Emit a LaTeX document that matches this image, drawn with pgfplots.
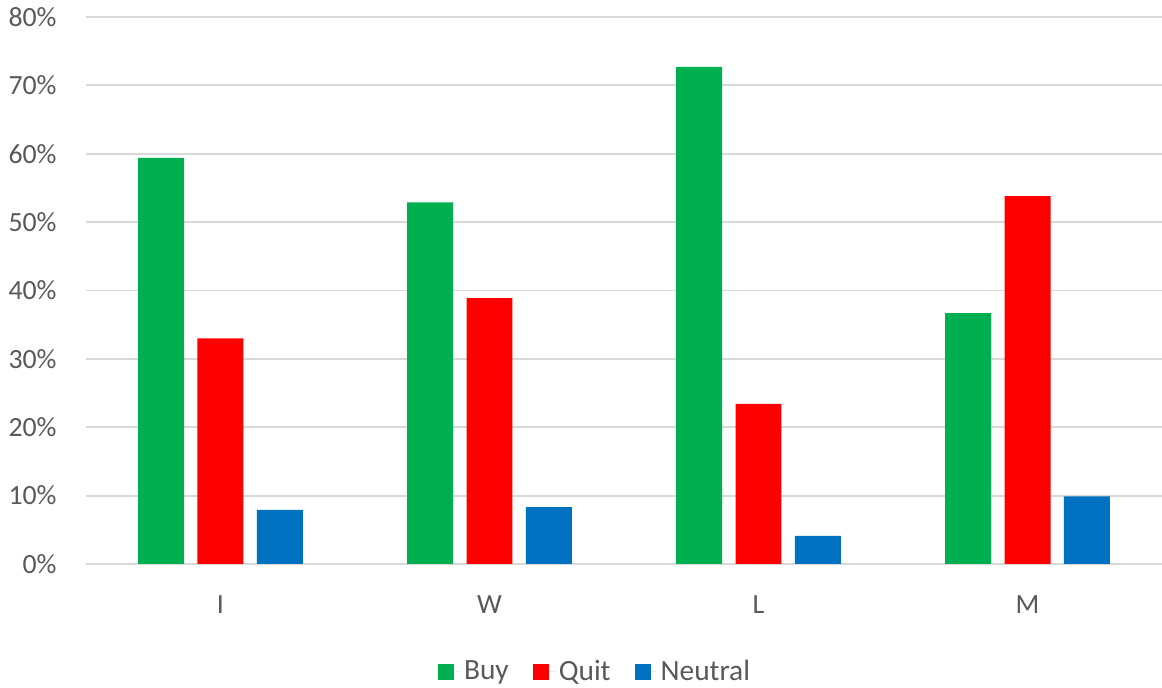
\documentclass[border=0pt]{standalone}
\usepackage{pgfplots}
\pgfplotsset{compat=1.18}
\usepackage{fontspec}
\setmainfont{Carlito}
\definecolor{cbuy}{HTML}{00B050}
\definecolor{cquit}{HTML}{FF0000}
\definecolor{cneu}{HTML}{0070C0}
\definecolor{cgrid}{HTML}{D9D9D9}
\definecolor{ctext}{HTML}{595959}
\begin{document}
\begin{tikzpicture}
\begin{axis}[
  scale only axis,
  width=538pt, height=273.5pt,
  xmin=-0.5, xmax=3.5,
  ymin=0, ymax=80,
  xtick={0,1,2,3},
  xticklabels={I,W,L,M},
  ytick={0,10,...,80},
  yticklabel={\pgfmathprintnumber{\tick}\%},
  /pgf/number format/assume math mode=true,
  major tick length=0pt,
  axis line style={draw=none},
  ymajorgrids,
  grid style={cgrid, line width=0.9pt},
  font=\fontsize{13.9}{16}\selectfont,
  tick label style={ctext},
  yticklabel style={inner sep=0pt, anchor=east, xshift=-14.5pt},
  xticklabel style={inner sep=0pt, anchor=north, yshift=-15.5pt},
  ybar, bar width=0.171,
  legend style={draw=none, fill=none, at={(0.474,-0.197)}, anchor=center,
    legend columns=3, font=\fontsize{14.7}{17}\selectfont\color{ctext},
    /tikz/every even column/.append style={column sep=10pt},
    inner sep=0pt},
  legend image code/.code={\fill[#1] (0pt,-4pt) rectangle (8pt,4pt); \path (0pt,0pt) -- (11pt,0pt);},
]
\addplot[fill=cbuy, draw=none, bar shift=-0.221] coordinates {(0,59.4) (1,52.9) (2,72.7) (3,36.7)};
\addplot[fill=cquit, draw=none, bar shift=0] coordinates {(0,33.0) (1,38.9) (2,23.4) (3,53.8)};
\addplot[fill=cneu, draw=none, bar shift=0.221] coordinates {(0,7.9) (1,8.3) (2,4.1) (3,9.9)};
\legend{Buy,Quit,Neutral}
\end{axis}
\pgfresetboundingbox
\path (-43pt,-62pt) rectangle (538pt,282pt);
\end{tikzpicture}
\end{document}
